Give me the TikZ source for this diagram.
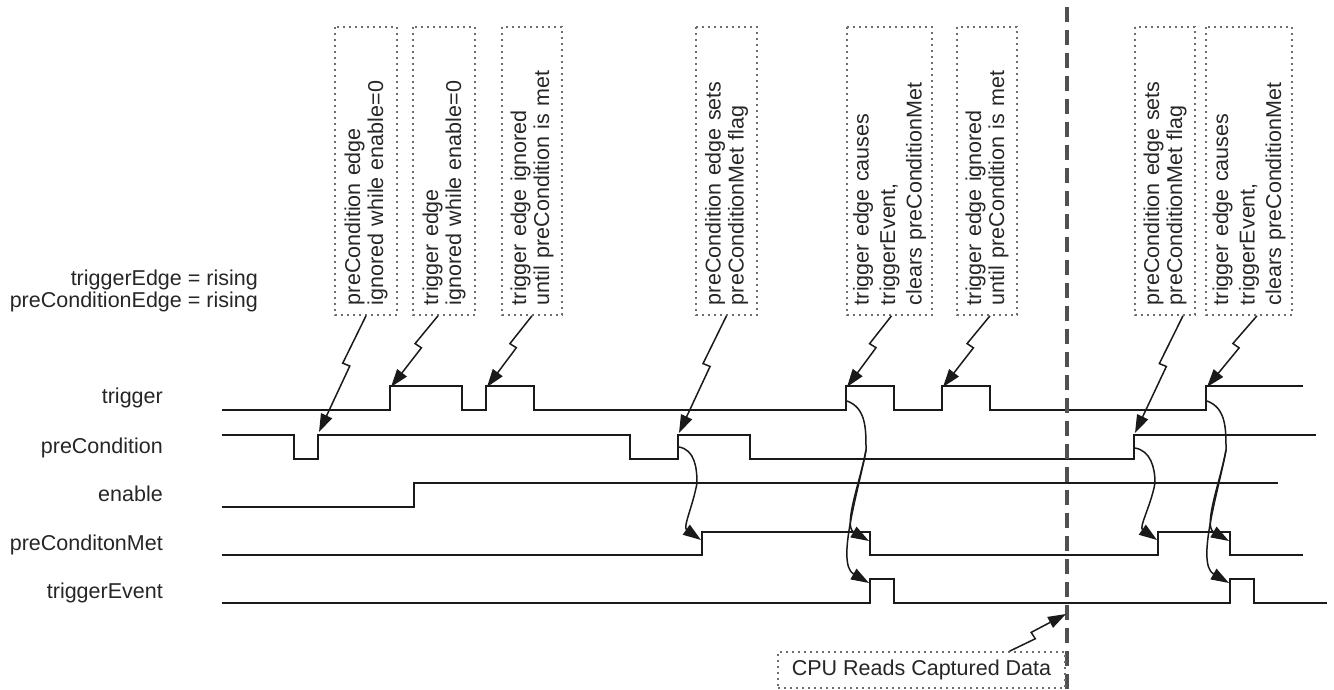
\documentclass[tikz,border=0pt]{standalone}
\usepackage{fontspec}
\setmainfont{Liberation Sans}
\usetikzlibrary{arrows.meta,calc}
\definecolor{ink}{HTML}{1A1A1A}
\definecolor{txt}{HTML}{262626}
\definecolor{dotc}{HTML}{6E6E6E}
\definecolor{dashc}{HTML}{505050}
\newcommand\boltto[2]{\draw[bolt] (#1) -- ($(#1)!0.42!(#2)!3.8pt!-90:(#2)$) -- ($(#1)!0.42!(#2)!3.8pt!90:(#2)$) -- (#2);}
\begin{document}
\begin{tikzpicture}[x=1pt,y=1pt,
  sig/.style={draw=ink, line width=2pt, line join=miter},
  lab/.style={anchor=base east, text=txt, font=\fontsize{21.5}{23}\selectfont, inner sep=0pt},
  dotbox/.style={draw=dotc, line width=1.6pt, dash pattern=on 1.6pt off 4.4pt, text=txt, font=\fontsize{21.5}{23}\selectfont},
  notebox/.style={dotbox, rotate=90, minimum width=288pt, text width=268pt, inner xsep=10pt, inner ysep=0pt, align=left},
  threeline/.style={font=\fontsize{21.5}{26.5}\selectfont},
  bolt/.style={draw=ink, line width=1.5pt, -{Triangle[length=18pt,width=12pt]}},
  curvy/.style={draw=ink, line width=1.5pt, -{Triangle[length=18pt,width=12pt]}},
  cpuline/.style={draw=dashc, line width=3.2pt, dash pattern=on 15pt off 8pt},
]
\useasboundingbox (0,0) rectangle (1334,-690);

% signal labels
\node[lab] (e1) at (258,-285) {triggerEdge = rising};
\node[lab] (e2) at (258,-307) {preConditionEdge = rising};
\node[lab] (lTrig) at (163,-403) {trigger};
\node[lab] (lPre) at (163,-453) {preCondition};
\node[lab] (lEn) at (163,-501) {enable};
\node[lab] (lMet) at (163,-550) {preConditonMet};
\node[lab] (lEv) at (163,-598) {triggerEvent};

% waveforms
\draw[sig] (222,-410) -- (390,-410) -- (390,-386) -- (462,-386) -- (462,-410) -- (486,-410) -- (486,-386) -- (534,-386) -- (534,-410) -- (846,-410) -- (846,-386) -- (894,-386) -- (894,-410) -- (942,-410) -- (942,-386) -- (990,-386) -- (990,-410) -- (1206,-410) -- (1206,-386) -- (1303,-386);
\draw[sig] (222,-435) -- (294,-435) -- (294,-459) -- (318,-459) -- (318,-435) -- (630,-435) -- (630,-459) -- (678,-459) -- (678,-435) -- (750,-435) -- (750,-459) -- (1134,-459) -- (1134,-435) -- (1316,-435);
\draw[sig] (222,-507) -- (414,-507) -- (414,-483) -- (1278,-483);
\draw[sig] (222,-555) -- (702,-555) -- (702,-532) -- (870,-532) -- (870,-555) -- (1158,-555) -- (1158,-532) -- (1230,-532) -- (1230,-555) -- (1303,-555);
\draw[sig] (222,-603) -- (870,-603) -- (870,-579) -- (894,-579) -- (894,-603) -- (1230,-603) -- (1230,-579) -- (1254,-579) -- (1254,-603) -- (1327,-603);

% dashed read marker
\coordinate (d1) at (1067,-7);
\coordinate (d2) at (1067,-690);
\draw[cpuline] (d1) -- (d2);

% annotation boxes
\node[notebox, minimum height=62pt] (n1) at (366,-171) {preCondition edge\\ignored while enable=0};
\node[notebox, minimum height=62pt] (n2) at (444,-171) {trigger edge\\ignored while enable=0};
\node[notebox, minimum height=60pt] (n3) at (532,-171) {trigger edge ignored\\until preCondition is met};
\node[notebox, minimum height=61pt] (n4) at (726.5,-171) {preCondition edge sets\\preConditionMet flag};
\node[notebox, threeline, minimum height=85pt] (n5) at (889.5,-171) {trigger edge causes\\triggerEvent,\\clears preConditionMet};
\node[notebox, minimum height=60pt] (n6) at (987,-171) {trigger edge ignored\\until preCondition is met};
\node[notebox, minimum height=60pt] (n7) at (1165,-171) {preCondition edge sets\\preConditionMet flag};
\node[notebox, threeline, minimum height=86pt] (n8) at (1249,-171) {trigger edge causes\\triggerEvent,\\clears preConditionMet};
\node[dotbox, minimum width=287pt, minimum height=36pt, inner sep=0pt] (cpu) at (921.5,-670) {CPU Reads Captured Data};

% bolt end points
\coordinate (b1e) at (319,-432);
\coordinate (b2e) at (391,-387);
\coordinate (b3e) at (487,-387);
\coordinate (b4e) at (679,-433);
\coordinate (b5e) at (847,-387);
\coordinate (b6e) at (943,-387);
\coordinate (b7e) at (1135,-433);
\coordinate (b8e) at (1207,-387);
\coordinate (b2s) at ($(n2.west)+(-6,0)$);
\coordinate (b5s) at ($(n5.west)+(2,0)$);
\coordinate (b6s) at ($(n6.west)+(3,0)$);
\coordinate (b7s) at ($(n7.west)+(18,0)$);
\coordinate (b8s) at ($(n8.west)+(8,0)$);
\coordinate (cpus) at ($(cpu.north)+(88,0)$);
\coordinate (cpue) at (1066,-614);

\boltto{n1.west}{b1e}
\boltto{b2s}{b2e}
\boltto{n3.west}{b3e}
\boltto{n4.west}{b4e}
\boltto{b5s}{b5e}
\boltto{b6s}{b6e}
\boltto{b7s}{b7e}
\boltto{b8s}{b8e}
\boltto{cpus}{cpue}

% causal curves
\coordinate (c1s) at (679,-447);
\coordinate (c1m) at (697,-483);
\coordinate (c1e) at (701,-540);
\coordinate (c2s) at (847,-401);
\coordinate (c2m) at (866,-450);
\coordinate (c2a) at (869,-541);
\coordinate (c2b) at (869,-583);
\coordinate (c3s) at (1135,-448);
\coordinate (c3m) at (1155,-483);
\coordinate (c3e) at (1157,-540);
\coordinate (c4s) at (1207,-401);
\coordinate (c4m) at (1226,-450);
\coordinate (c4a) at (1229,-541);
\coordinate (c4b) at (1229,-583);

\draw[curvy] (c1s) to[out=-10,in=90] (c1m) to[out=-100,in=145] (c1e);
\draw[curvy] (c3s) to[out=-10,in=90] (c3m) to[out=-100,in=145] (c3e);
\draw[curvy] (c2s) to[out=-20,in=90] (c2m) to[out=-100,in=150,looseness=0.85] (c2a);
\draw[curvy] (c2m) to[out=-100,in=150,looseness=0.75] (c2b);
\draw[curvy] (c4s) to[out=-20,in=90] (c4m) to[out=-100,in=150,looseness=0.85] (c4a);
\draw[curvy] (c4m) to[out=-100,in=150,looseness=0.75] (c4b);
\end{tikzpicture}
\end{document}
